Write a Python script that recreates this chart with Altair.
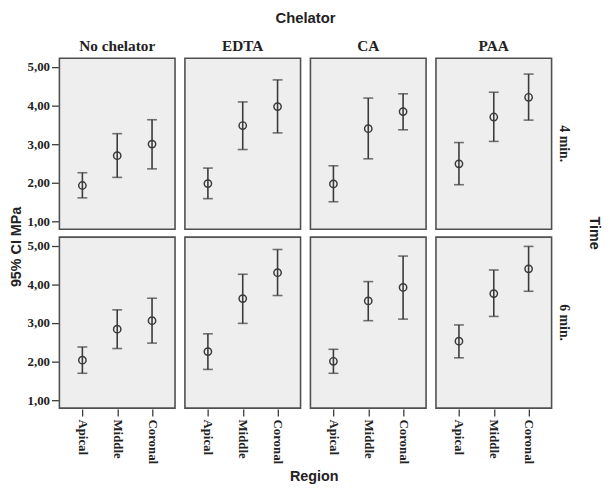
import altair as alt
import pandas as pd

chelators = ["No chelator", "EDTA", "CA", "PAA"]
times = ["4 min.", "6 min."]
regions = ["Apical", "Middle", "Coronal"]

# per chelator: [Apical, Middle, Coronal]
mean_4 = [[1.93, 2.70, 3.00], [1.98, 3.48, 3.97], [1.97, 3.40, 3.84], [2.49, 3.70, 4.21]]
low_4 = [[1.61, 2.14, 2.36], [1.59, 2.86, 3.29], [1.51, 2.62, 3.37], [1.95, 3.07, 3.62]]
high_4 = [[2.26, 3.27, 3.63], [2.38, 4.09, 4.66], [2.44, 4.19, 4.30], [3.04, 4.34, 4.81]]

mean_6 = [[2.04, 2.84, 3.06], [2.26, 3.63, 4.30], [2.01, 3.57, 3.92], [2.53, 3.76, 4.40]]
low_6 = [[1.70, 2.34, 2.48], [1.80, 2.99, 3.71], [1.70, 3.06, 3.10], [2.10, 3.17, 3.82]]
high_6 = [[2.38, 3.34, 3.64], [2.72, 4.26, 4.90], [2.32, 4.07, 4.73], [2.95, 4.37, 4.98]]

y_ticks = [1, 2, 3, 4, 5]

rows = []
for t, (m, lo, hi) in zip(times, [(mean_4, low_4, high_4), (mean_6, low_6, high_6)]):
    for ci, c in enumerate(chelators):
        for ri, r in enumerate(regions):
            rows.append({"chelator": c, "time": t, "region": r,
                         "mean": m[ci][ri], "lower": lo[ci][ri], "upper": hi[ci][ri]})
df = pd.DataFrame(rows)

ink = "#3a3a3a"
txt = "#222222"
serif = "Liberation Serif"
sans = "Liberation Sans"

x_enc = alt.X("region:N", sort=regions,
              scale=alt.Scale(type="point", padding=0.66),
              axis=alt.Axis(title=None, labelAngle=90, labelFont=serif, labelFontWeight="bold",
                            labelFontSize=13, labelColor=txt, labelPadding=3,
                            tickSize=7, tickColor=ink, tickWidth=1.3, domain=False,
                            labelAlign="left", labelBaseline="middle"))
y_scale = alt.Scale(domain=[0.8, 5.22], nice=False, zero=False)
y_axis = alt.Axis(title=None, values=y_ticks,
                  labelExpr="replace(format(datum.value, '.2f'), '.', ',')",
                  labelFont=serif, labelFontWeight="bold", labelFontSize=13, labelColor=txt,
                  tickSize=7, tickColor=ink, tickWidth=1.3, domain=False, grid=False,
                  labelPadding=2)

view_bg = alt.ViewBackground(fill="#eeeeee", stroke="#505050", strokeWidth=1.6)

rule = alt.Chart().mark_rule(color=ink, strokeWidth=1.6).encode(
    x=x_enc,
    y=alt.Y("lower:Q", scale=y_scale, axis=y_axis),
    y2="upper:Q",
)
cap_lo = alt.Chart().mark_tick(color=ink, size=10, thickness=1.6, orient="horizontal").encode(
    x=x_enc, y=alt.Y("lower:Q", scale=y_scale, axis=y_axis))
cap_hi = alt.Chart().mark_tick(color=ink, size=10, thickness=1.6, orient="horizontal").encode(
    x=x_enc, y=alt.Y("upper:Q", scale=y_scale, axis=y_axis))
pts = alt.Chart().mark_point(shape="circle", filled=False, color=ink, size=55, strokeWidth=1.5,
                             opacity=1).encode(
    x=x_enc, y=alt.Y("mean:Q", scale=y_scale, axis=y_axis))

layer = alt.layer(rule, cap_lo, cap_hi, pts, data=df).properties(
    width=117, height=173, view=view_bg)

facet = layer.facet(
    column=alt.Column("chelator:N", sort=chelators,
                      header=alt.Header(title="Chelator", titleFont=sans, titleFontSize=15,
                                        titleFontWeight="bold", titleColor=txt,
                                        titlePadding=3,
                                        labelFont=serif, labelFontSize=15.5, labelFontWeight="bold",
                                        labelColor=txt, labelPadding=3)),
    row=alt.Row("time:N", sort=times,
                header=alt.Header(title="Time", titleOrient="right", labelOrient="right",
                                  titleAngle=90, labelAngle=90,
                                  titleFont=sans, titleFontSize=14.5, titleFontWeight="bold",
                                  titleColor=txt, titlePadding=6,
                                  labelFont=serif, labelFontSize=14, labelFontWeight="bold",
                                  labelColor=txt, labelPadding=4)),
    spacing={"column": 8, "row": 6},
).properties(
    title=alt.TitleParams("Region", orient="bottom", anchor="middle", font=sans, fontSize=14.5,
                          fontWeight="bold", color=txt, offset=6)
)

chart = alt.hconcat(facet).properties(
    title=alt.TitleParams("95% CI MPa", orient="left", anchor="middle", font=sans, fontSize=14.5,
                          fontWeight="bold", color=txt, offset=3)
).configure_view(
    fill="#eeeeee", stroke="#505050", strokeWidth=1.6
).configure(background="white", padding={"left": 0, "top": 0, "right": 0, "bottom": 0})

chart.save("out.html", embed_options={"renderer": "svg", "actions": False})
